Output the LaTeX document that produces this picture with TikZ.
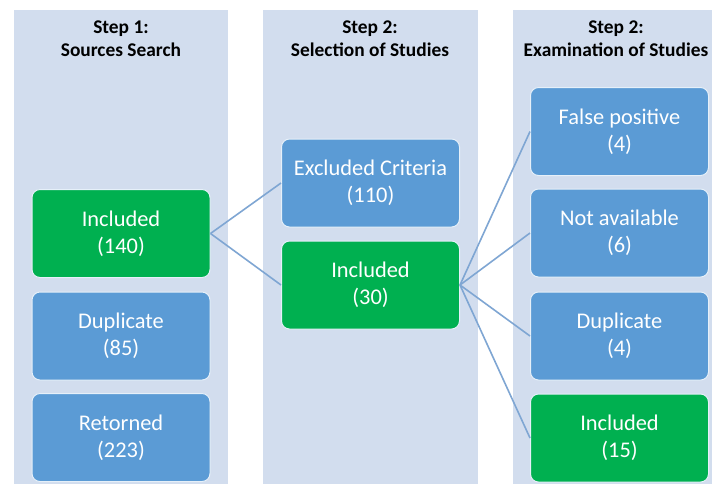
\documentclass[tikz,border=0pt]{standalone}
\usepackage{fontspec}
\setmainfont{Carlito}
\definecolor{colbg}{HTML}{D2DDEE}
\definecolor{boxblue}{HTML}{5B9BD5}
\definecolor{boxgreen}{HTML}{00B050}
\definecolor{linkblue}{HTML}{7FA6D3}
\begin{document}
\begin{tikzpicture}[x=0.5pt,y=-0.5pt,
  colrect/.style={fill=colbg,draw=none},
  head/.style={font=\bfseries\fontsize{9.7}{11.5}\selectfont,align=center,text=black},
  card/.style={draw=white!85!boxblue,line width=0.5pt,rounded corners=4pt,minimum width=89pt,minimum height=44pt,inner sep=0pt,align=center,text=white,font=\fontsize{11.2}{13.5}\selectfont},
  bluecard/.style={card,fill=boxblue},
  greencard/.style={card,fill=boxgreen},
  link/.style={draw=linkblue,line width=0.8pt}]
\useasboundingbox (0,0) rectangle (712,484);
\fill[white] (0,0) rectangle (712,484);
% columns
\path[colrect] (14,10) rectangle (228,484);
\path[colrect] (263,10) rectangle (478,484);
\path[colrect] (513,10) rectangle (712,484);
% headings
\node[head] (h1) at (121,39) {Step 1:\\Sources Search};
\node[head] (h2) at (370,39) {Step 2:\\Selection of Studies};
\node[head] (h3) at (616,39) {Step 2:\\Examination of Studies};
% column 1
\node[greencard] (inc1) at (121,233.5) {Included\\(140)};
\node[bluecard] (dup1) at (121,336) {Duplicate\\(85)};
\node[bluecard] (ret1) at (121,437.5) {Retorned\\(223)};
% column 2
\node[bluecard] (exc2) at (370.5,183) {Excluded Criteria\\(110)};
\node[greencard] (inc2) at (370.5,285) {Included\\(30)};
% column 3
\node[bluecard] (fp3) at (619.5,131.5) {False positive\\(4)};
\node[bluecard] (na3) at (619.5,233) {Not available\\(6)};
\node[bluecard] (dup3) at (619.5,336) {Duplicate\\(4)};
\node[greencard] (inc3) at (619.5,438) {Included\\(15)};
% links
\draw[link] (inc1.east) -- (exc2.west);
\draw[link] (inc1.east) -- (inc2.west);
\draw[link] (inc2.east) -- (fp3.west);
\draw[link] (inc2.east) -- (na3.west);
\draw[link] (inc2.east) -- (dup3.west);
\draw[link] (inc2.east) -- (inc3.west);
\end{tikzpicture}
\end{document}
